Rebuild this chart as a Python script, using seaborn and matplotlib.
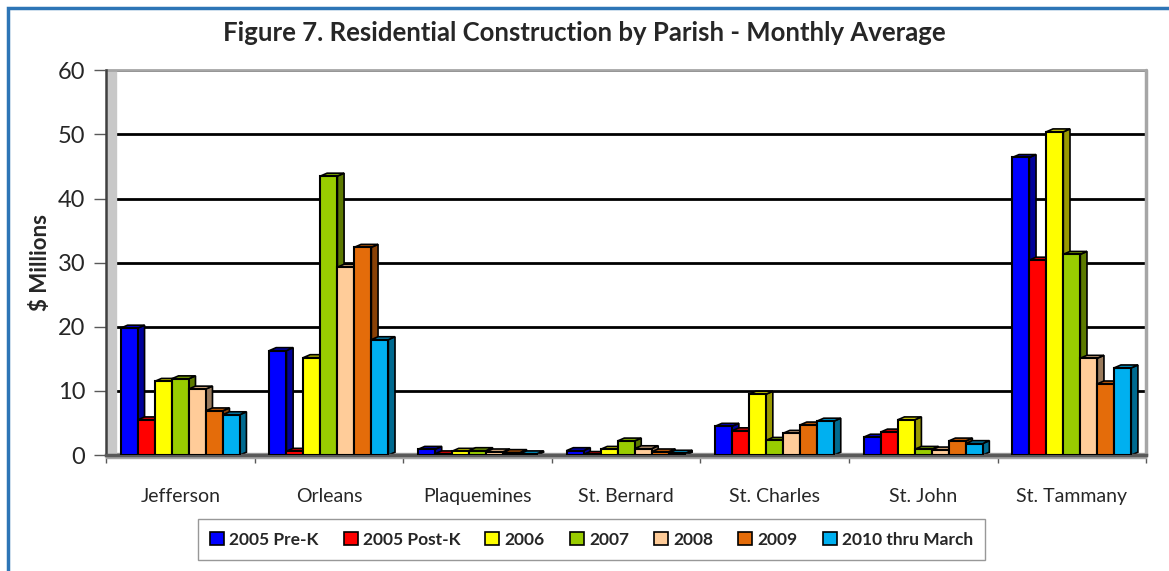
import numpy as np
import pandas as pd
import matplotlib
matplotlib.use("Agg")
import matplotlib.pyplot as plt
import matplotlib.colors as mcolors
from matplotlib.patches import Polygon, Rectangle
import seaborn as sns

# === Data ($ millions, monthly average) ===
parishes = ["Jefferson", "Orleans", "Plaquemines", "St. Bernard", "St. Charles", "St. John", "St. Tammany"]
periods = ["2005 Pre-K", "2005 Post-K", "2006", "2007", "2008", "2009", "2010 thru March"]

pre_k_2005 = [19.8, 16.3, 0.9, 0.7, 4.5, 2.8, 46.4]
post_k_2005 = [5.5, 0.6, 0.2, 0.1, 3.8, 3.6, 30.4]
y2006 = [11.5, 15.2, 0.6, 0.9, 9.5, 5.5, 50.4]
y2007 = [11.9, 43.5, 0.7, 2.2, 2.3, 0.9, 31.3]
y2008 = [10.3, 29.3, 0.5, 1.0, 3.4, 0.8, 15.1]
y2009 = [6.9, 32.4, 0.4, 0.5, 4.7, 2.2, 11.1]
y2010 = [6.3, 18.0, 0.2, 0.3, 5.3, 1.8, 13.6]

colors = ["#0000FF", "#FF0000", "#FFFF00", "#99CC00", "#FFCC99", "#E46C0A", "#00B0F0"]

series = [pre_k_2005, post_k_2005, y2006, y2007, y2008, y2009, y2010]
df = pd.DataFrame({
    "Parish": [p for s in series for p in parishes],
    "Period": [per for per, s in zip(periods, series) for _ in s],
    "Value": [v for s in series for v in s],
})

sns.set_style("white")
plt.rcParams["font.family"] = ["Lato", "DejaVu Sans"]

fig = plt.figure(figsize=(11.69, 5.71), dpi=100)
ax = fig.add_axes([0.0907, 0.203, 0.8897, 0.674])

sns.barplot(data=df, x="Parish", y="Value", hue="Period", order=parishes, hue_order=periods,
            palette=colors, saturation=1, width=0.8, gap=0, edgecolor="black", linewidth=1.5,
            legend=False, ax=ax, zorder=3)

# fake 3D depth on each bar
dx, dy = 0.045, 0.45
for patch in ax.patches:
    x, w, h = patch.get_x(), patch.get_width(), patch.get_height()
    fc = np.array(mcolors.to_rgb(patch.get_facecolor()))
    side = Polygon([(x + w, 0), (x + w + dx, dy), (x + w + dx, h + dy), (x + w, h)],
                   closed=True, facecolor=fc * 0.6, edgecolor="black", lw=1.2, zorder=2)
    top = Polygon([(x, h), (x + dx, h + dy), (x + w + dx, h + dy), (x + w, h)],
                  closed=True, facecolor=fc * 0.8, edgecolor="black", lw=1.2, zorder=2)
    ax.add_patch(side)
    ax.add_patch(top)

ax.set_xlim(-0.5, 6.5)
ax.set_ylim(0, 60)
ax.set_yticks(range(0, 61, 10))
ax.yaxis.grid(True, color="black", lw=2, zorder=0)
ax.set_axisbelow(True)

# floor and walls
ax.axhspan(-0.4, 0.35, color="#A6A6A6", zorder=1, clip_on=False)
ax.axvspan(-0.5, -0.43, color="#C8C8C8", zorder=1)
for sp in ["top", "right"]:
    ax.spines[sp].set_visible(False)
ax.spines["left"].set_color("#404040")
ax.spines["left"].set_linewidth(1.8)
ax.spines["bottom"].set_color("#595959")
ax.spines["bottom"].set_linewidth(2.5)
ax.plot([6.5, 6.5], [0, 60], color="#A6A6A6", lw=2.5, zorder=1, clip_on=False)
ax.plot([-0.5, 6.5], [60, 60], color="#A6A6A6", lw=2, zorder=1, clip_on=False)

ax.set_xticks(np.arange(-0.5, 7, 1), minor=True)
ax.tick_params(axis="x", which="minor", length=6, width=1, color="#595959", bottom=True)
ax.tick_params(axis="x", which="major", length=0, labelsize=14, pad=24)
ax.tick_params(axis="y", length=9, width=1, left=True, labelsize=17, color="#595959", pad=6)
ax.set_xlabel("")
ax.set_ylabel("$ Millions", fontsize=16, fontweight="bold", labelpad=5)

fig.text(0.5, 0.943, "Figure 7. Residential Construction by Parish - Monthly Average",
         ha="center", va="center", fontsize=18.5, fontweight="bold")

# legend
handles = [Rectangle((0, 0), 1, 1, facecolor=c, edgecolor="black", lw=1.2) for c in colors]
leg = fig.legend(handles, periods, loc="center", bbox_to_anchor=(0.506, 0.055), ncol=7,
                 frameon=True, fancybox=False, edgecolor="#7F7F7F", handlelength=0.8,
                 handleheight=0.8, handletextpad=0.3, columnspacing=1.45,
                 prop={"weight": "bold", "size": 12.5}, borderpad=0.7)

# outer frame
fig.patches.append(Rectangle((0.007, -0.1), 1.2, 1.086, transform=fig.transFigure,
                             fill=False, edgecolor="#2E75B6", lw=2.5))

fig.savefig("out.png", dpi=100)
